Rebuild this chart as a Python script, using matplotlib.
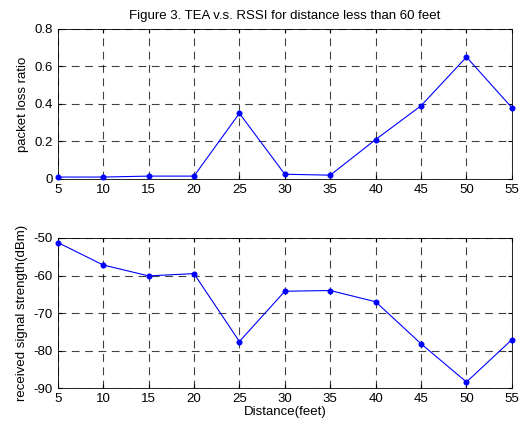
import matplotlib
matplotlib.use("Agg")
import matplotlib.pyplot as plt

plt.rcParams['font.family'] = ['Liberation Sans', 'DejaVu Sans']
plt.rcParams['axes.unicode_minus'] = False

distance = [5, 10, 15, 20, 25, 30, 35, 40, 45, 50, 55]
loss_ratio = [0.01, 0.01, 0.015, 0.015, 0.35, 0.025, 0.02, 0.21, 0.39, 0.65, 0.38]
rssi = [-51.2, -57.2, -60.1, -59.5, -77.6, -64.2, -64.0, -67.0, -78.2, -88.4, -77.1]

fig = plt.figure(figsize=(5.25, 4.25), dpi=100)
ax1 = fig.add_axes([0.110, 0.579, 0.865, 0.353])
ax2 = fig.add_axes([0.110, 0.087, 0.865, 0.353])


def style(ax):
    ax.set_xlim(5, 55)
    ax.set_xticks(distance)
    ax.grid(True, color='black', linestyle=(0, (7, 5)), linewidth=0.8, alpha=0.75)
    ax.tick_params(direction='in', labelsize=9.5, length=3, top=True, right=True)
    for s in ax.spines.values():
        s.set_linewidth(0.6)


ax1.plot(distance, loss_ratio, color='#0000ff', marker='o', markersize=3.3, linewidth=0.8, clip_on=False, zorder=3)
ax1.set_ylim(0, 0.8)
ax1.set_yticks([0, 0.2, 0.4, 0.6, 0.8])
ax1.set_yticklabels(['0', '0.2', '0.4', '0.6', '0.8'])
ax1.set_ylabel('packet loss ratio', fontsize=9.5)
ax1.set_title('Figure 3. TEA v.s. RSSI for distance less than 60 feet', fontsize=9.5, pad=7)
style(ax1)

ax2.plot(distance, rssi, color='#0000ff', marker='o', markersize=3.3, linewidth=0.8, clip_on=False, zorder=3)
ax2.set_ylim(-90, -50)
ax2.set_yticks([-90, -80, -70, -60, -50])
ax2.set_ylabel('received signal strength(dBm)', fontsize=9.5)
ax2.set_xlabel('Distance(feet)', fontsize=9.5, labelpad=1)
style(ax2)

fig.savefig('out.png', dpi=100)
